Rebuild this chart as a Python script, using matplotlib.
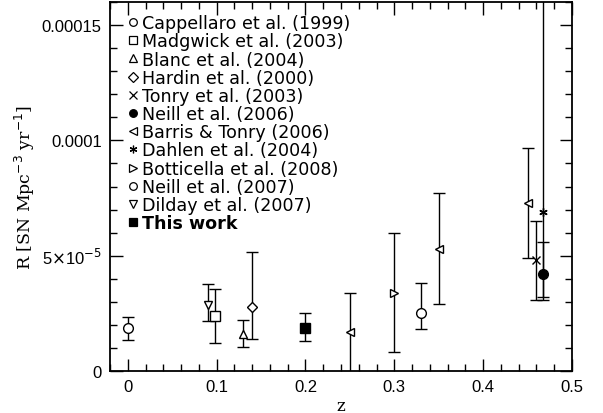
import matplotlib
matplotlib.use("Agg")
import matplotlib.pyplot as plt
from matplotlib.lines import Line2D
from matplotlib.ticker import FixedLocator, MultipleLocator

labels = ["Cappellaro et al. (1999)", "Madgwick et al. (2003)", "Blanc et al. (2004)",
          "Hardin et al. (2000)", "Tonry et al. (2003)", "Neill et al. (2006)",
          "Barris & Tonry (2006)", "Dahlen et al. (2004)", "Botticella et al. (2008)",
          "Neill et al. (2007)", "Dilday et al. (2007)", "This work"]
markers = ["o", "s", "^", "D", "x", "o", "<", (6, 2, 0), ">", "o", "v", "s"]
filled = [False, False, False, False, False, True, False, False, False, False, False, True]

z = [[0.0], [0.098], [0.13], [0.14], [0.46], [0.467], [0.25, 0.35, 0.45],
     [0.467], [0.30], [0.33], [0.09], [0.20]]
rate = [[1.86], [2.38], [1.60], [2.77], [4.80], [4.20], [1.69, 5.28, 7.30],
        [6.90], [3.38], [2.50], [2.86], [1.86]]
err_hi = [[2.34], [3.55], [2.20], [5.15], [6.50], [5.60], [3.38, 7.70, 9.65],
          [17.0], [5.97], [3.81], [3.77], [2.50]]
err_lo = [[1.34], [1.21], [1.04], [1.39], [3.10], [3.20], [-1.0, 2.90, 4.90],
          [3.10], [0.82], [1.82], [2.16], [1.30]]

xticks = [0, 0.1, 0.2, 0.3, 0.4, 0.5]
xtick_labels = ["0", "0.1", "0.2", "0.3", "0.4", "0.5"]
yticks = [0, 5e-5, 1e-4, 1.5e-4]
ytick_labels = ["0", r"5$\times$10$^{-5}$", "0.0001", "0.00015"]

plt.rcParams['font.family'] = ['Liberation Sans', 'DejaVu Sans']
plt.rcParams['mathtext.fontset'] = 'dejavusans'

fig = plt.figure(figsize=(6.03, 4.14), dpi=100)
ax = fig.add_axes([0.1824, 0.1014, 0.7662, 0.8914])

handles = []
for i in range(len(labels)):
    y = [v * 1e-5 for v in rate[i]]
    lo = [(rate[i][k] - err_lo[i][k]) * 1e-5 for k in range(len(y))]
    hi = [(err_hi[i][k] - rate[i][k]) * 1e-5 for k in range(len(y))]
    face = "black" if filled[i] else "white"
    if markers[i] in ("o", "s"):
        ms = 7
    elif markers[i] == "D":
        ms = 5.5
    else:
        ms = 6
    ax.errorbar(z[i], y, yerr=[lo, hi], fmt="none", ecolor="black",
                elinewidth=1, capsize=4.5, capthick=1, zorder=2)
    ax.plot(z[i], y, linestyle="none", marker=markers[i], markersize=ms,
            markerfacecolor=face, markeredgecolor="black", markeredgewidth=1,
            color="black", zorder=3)
    handles.append(Line2D([], [], linestyle="none", marker=markers[i],
                          markersize=5.5, markerfacecolor=face,
                          markeredgecolor="black", markeredgewidth=0.9,
                          color="black"))

leg = ax.legend(handles, labels, loc="upper left", bbox_to_anchor=(0.015, 1.0),
                frameon=False, handlelength=0.45, handletextpad=0.3,
                labelspacing=0.01, borderaxespad=0.3,
                prop={"family": "DejaVu Sans", "size": 12.6})
leg.get_texts()[-1].set_fontweight("bold")

ax.set_xlim(-0.02, 0.5)
ax.set_ylim(0, 1.6e-4)
ax.xaxis.set_major_locator(FixedLocator(xticks))
ax.xaxis.set_minor_locator(MultipleLocator(0.02))
ax.yaxis.set_major_locator(FixedLocator(yticks))
ax.yaxis.set_minor_locator(MultipleLocator(1e-5))
ax.set_xticklabels(xtick_labels)
ax.set_yticklabels(ytick_labels)
ax.tick_params(which="both", direction="in", top=True, right=True, labelsize=12,
               width=1, pad=6)
ax.tick_params(which="major", length=9)
ax.tick_params(which="minor", length=5)
for s in ax.spines.values():
    s.set_linewidth(1.3)

ax.set_xlabel("z", family="DejaVu Serif", fontsize=12, labelpad=2)
ax.set_ylabel(r"R [SN Mpc$^{-3}$ yr$^{-1}$]", family="DejaVu Serif",
              fontsize=12.5, labelpad=3)

fig.savefig("out.png", dpi=100)
